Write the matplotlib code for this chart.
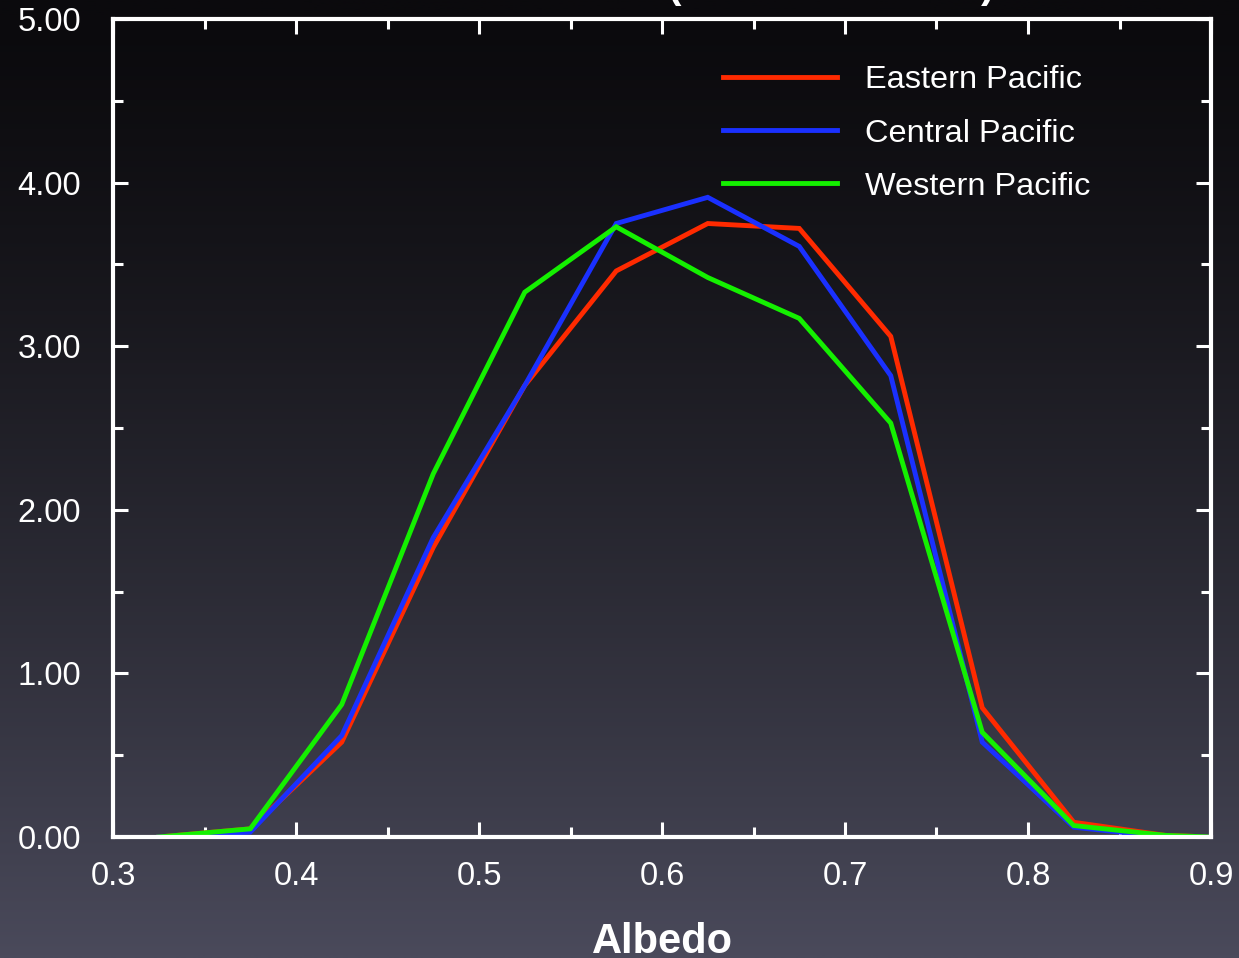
import numpy as np
import matplotlib
matplotlib.use("Agg")
import matplotlib.pyplot as plt
from matplotlib.colors import LinearSegmentedColormap
from matplotlib.ticker import MultipleLocator, FormatStrFormatter

# Albedo bin centres and frequency of occurrence for each region
albedo = [0.325, 0.375, 0.425, 0.475, 0.525, 0.575, 0.625, 0.675, 0.725, 0.775, 0.825, 0.875, 0.9]
eastern = [0.00, 0.05, 0.58, 1.77, 2.76, 3.46, 3.75, 3.72, 3.06, 0.79, 0.09, 0.01, 0.00]
central = [0.00, 0.03, 0.62, 1.83, 2.76, 3.75, 3.91, 3.61, 2.82, 0.58, 0.06, 0.00, 0.00]
western = [0.00, 0.05, 0.81, 2.22, 3.33, 3.73, 3.42, 3.17, 2.53, 0.64, 0.07, 0.01, 0.00]

series = [
    ("Eastern Pacific", eastern, "#ff2a00"),
    ("Central Pacific", central, "#1a30ff"),
    ("Western Pacific", western, "#14f000"),
]

plt.rcParams["font.family"] = ["Liberation Sans", "DejaVu Sans"]

W, H, DPI = 1239, 958, 100
fig = plt.figure(figsize=(W / DPI, H / DPI), dpi=DPI)

# dark vertical gradient backdrop
bg = fig.add_axes([0, 0, 1, 1], zorder=-10)
bg.set_axis_off()
t = np.linspace(0, 1, 512) ** 1.35
grad = np.vstack([t, t]).T
cmap = LinearSegmentedColormap.from_list("bg", ["#0b0a0d", "#4a4a5b"])
bg.imshow(grad, aspect="auto", cmap=cmap, extent=[0, 1, 1, 0])

ax = fig.add_axes([113 / W, 1 - 837 / H, (1211 - 113) / W, (837 - 19) / H])
ax.patch.set_alpha(0)

for name, vals, col in series:
    ax.plot(albedo, vals, color=col, lw=3.5, label=name, solid_joinstyle="miter")

ax.set_xlim(0.3, 0.9)
ax.set_ylim(0, 5)
ax.xaxis.set_major_locator(MultipleLocator(0.1))
ax.xaxis.set_minor_locator(MultipleLocator(0.05))
ax.yaxis.set_major_locator(MultipleLocator(1.0))
ax.yaxis.set_minor_locator(MultipleLocator(0.5))
ax.xaxis.set_major_formatter(FormatStrFormatter("%.1f"))
ax.yaxis.set_major_formatter(FormatStrFormatter("%.2f"))

for s in ax.spines.values():
    s.set_color("white")
    s.set_linewidth(3)

ax.tick_params(which="both", direction="in", top=True, right=True,
               color="white", width=2.2, labelcolor="white", labelsize=23.5)
ax.tick_params(which="major", length=11)
ax.tick_params(which="minor", length=7)
ax.tick_params(axis="y", which="major", pad=23)
ax.tick_params(axis="x", which="major", pad=17)

ax.set_xlabel("Albedo", color="white", fontsize=30, fontweight="bold", labelpad=22)

leg = ax.legend(loc="upper left", frameon=False, fontsize=23.4, labelcolor="white",
                handlelength=3.5, handletextpad=0.86, labelspacing=0.71,
                bbox_to_anchor=(0.529, 0.979))
for ln in leg.get_lines():
    ln.set_linewidth(3.5)

# title sits mostly above the canvas; only the parentheses' tails show
fig.text(675 / W, 1 + 2 / H, "(", color="white", fontsize=29, fontweight="bold",
         ha="center", va="baseline")
fig.text(988 / W, 1 + 2 / H, ")", color="white", fontsize=29, fontweight="bold",
         ha="center", va="baseline")

fig.savefig("out.png", dpi=DPI)
